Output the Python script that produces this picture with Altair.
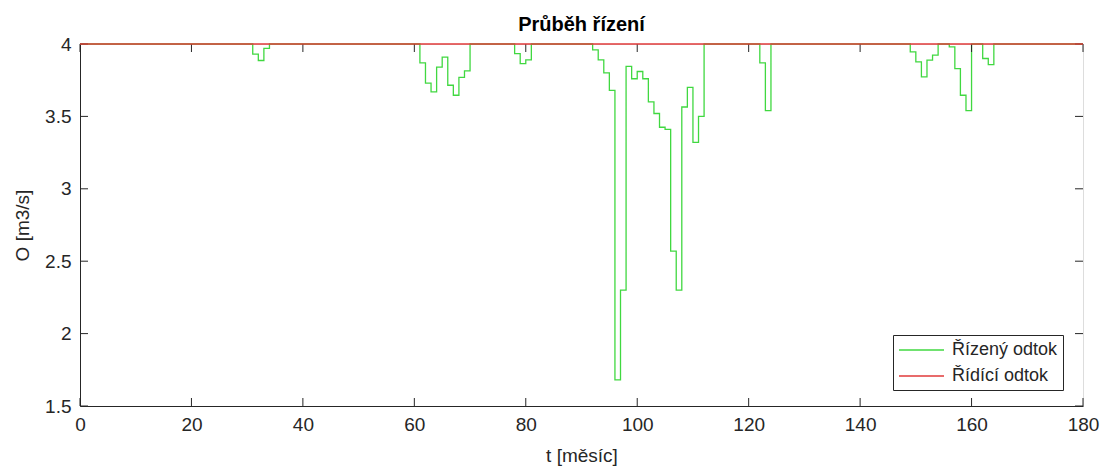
import altair as alt
import pandas as pd

# ---- data ----
t_start, t_end = 0, 180
base_flow = 4.0  # Řídící odtok (constant)

dip_months = [31, 32, 33,
              61, 62, 63, 64, 65, 66, 67, 68, 69,
              78, 79, 80,
              92, 93, 94, 95, 96, 97, 98, 99, 100, 101, 102, 103, 104, 105,
              106, 107, 108, 109, 110, 111,
              122, 123,
              149, 150, 151, 152, 153,
              156, 157, 158, 159,
              162, 163]
dip_values = [3.93, 3.886, 3.97,
              3.87, 3.73, 3.67, 3.84, 3.91, 3.715, 3.646, 3.77, 3.815,
              3.934, 3.865, 3.89,
              3.96, 3.89, 3.80, 3.68, 1.68, 2.30, 3.845, 3.76, 3.81, 3.76, 3.60, 3.52, 3.425, 3.41,
              2.57, 2.30, 3.565, 3.70, 3.32, 3.50,
              3.87, 3.54,
              3.946, 3.877, 3.773, 3.888, 3.923,
              3.98, 3.83, 3.646, 3.54,
              3.90, 3.858]

x_ticks = [0, 20, 40, 60, 80, 100, 120, 140, 160, 180]
y_ticks = [1.5, 2, 2.5, 3, 3.5, 4]
series_names = ["Řízený odtok", "Řídící odtok"]
series_colors = ["#40d840", "#e03a3a"]

months = list(range(t_start, t_end + 1))
lookup = dict(zip(dip_months, dip_values))
green_df = pd.DataFrame({"t": months,
                         "O": [lookup.get(m, base_flow) for m in months],
                         "series": series_names[0]})
red_df = pd.DataFrame({"t": [t_start, t_end], "O": [base_flow, base_flow],
                       "series": series_names[1]})
xt_df = pd.DataFrame({"t": x_ticks})
yt_df = pd.DataFrame({"O": y_ticks})

W, H = 1003, 362
FONT = "Liberation Sans"
INK = "#262626"

xs = alt.Scale(domain=[t_start, t_end], nice=False, zero=False)
ys = alt.Scale(domain=[1.5, 4], nice=False, zero=False)

color = alt.Color(
    "series:N",
    scale=alt.Scale(domain=series_names, range=series_colors),
    legend=alt.Legend(
        title=None, orient="none", legendX=813, legendY=291,
        symbolType="M-2.5,0H2.5", symbolSize=324, symbolStrokeWidth=1.6,
        symbolOffset=13.5, labelOffset=20.5,
        labelFont=FONT, labelFontSize=18, labelColor=INK,
        labelExpr="datum.label + '   '",
        rowPadding=7, padding=5, strokeColor=INK, fillColor="white",
        cornerRadius=0,
    ),
)

x_axis = alt.Axis(values=x_ticks, ticks=False, grid=False, title="t [měsíc]",
                  labelFont=FONT, labelFontSize=19, labelColor=INK, labelPadding=9,
                  titleFont=FONT, titleFontSize=19, titleFontWeight="normal",
                  titleColor=INK, titlePadding=12, domainColor=INK, labelFlush=False)
y_axis = alt.Axis(values=y_ticks, ticks=False, grid=False, title="O [m3/s]",
                  labelFont=FONT, labelFontSize=19, labelColor=INK, labelPadding=9,
                  titleFont=FONT, titleFontSize=19, titleFontWeight="normal",
                  titleColor=INK, titlePadding=12, domainColor=INK, labelFlush=False,
                  format="~g")

green = alt.Chart(green_df).mark_line(interpolate="step-after", strokeWidth=1.3).encode(
    x=alt.X("t:Q", scale=xs, axis=x_axis),
    y=alt.Y("O:Q", scale=ys, axis=y_axis),
    color=color,
)
red = alt.Chart(red_df).mark_line(strokeWidth=1.3).encode(
    x=alt.X("t:Q", scale=xs),
    y=alt.Y("O:Q", scale=ys),
    color=color,
)

tick_len = 8
xt_bottom = alt.Chart(xt_df).mark_rule(color=INK).encode(
    x=alt.X("t:Q", scale=xs), y=alt.value(H - tick_len), y2=alt.value(H))
xt_top = alt.Chart(xt_df).mark_rule(color=INK).encode(
    x=alt.X("t:Q", scale=xs), y=alt.value(0), y2=alt.value(tick_len))
yt_left = alt.Chart(yt_df).mark_rule(color=INK).encode(
    y=alt.Y("O:Q", scale=ys), x=alt.value(0), x2=alt.value(tick_len))
yt_right = alt.Chart(yt_df).mark_rule(color=INK).encode(
    y=alt.Y("O:Q", scale=ys), x=alt.value(W - tick_len), x2=alt.value(W))

chart = alt.layer(green, xt_bottom, xt_top, yt_left, yt_right, red).properties(
    width=W, height=H,
    autosize="none",
    padding={"left": 80, "top": 44, "right": 1101 - 80 - W, "bottom": 470 - 44 - H},
    title=alt.TitleParams("Průběh řízení", font=FONT, fontSize=20, fontWeight="bold",
                          color="black", offset=0, anchor="middle"),
).configure_view(stroke=INK, strokeWidth=1).configure(background="white")

chart.save("out.html", embed_options={"renderer": "svg", "actions": False})
